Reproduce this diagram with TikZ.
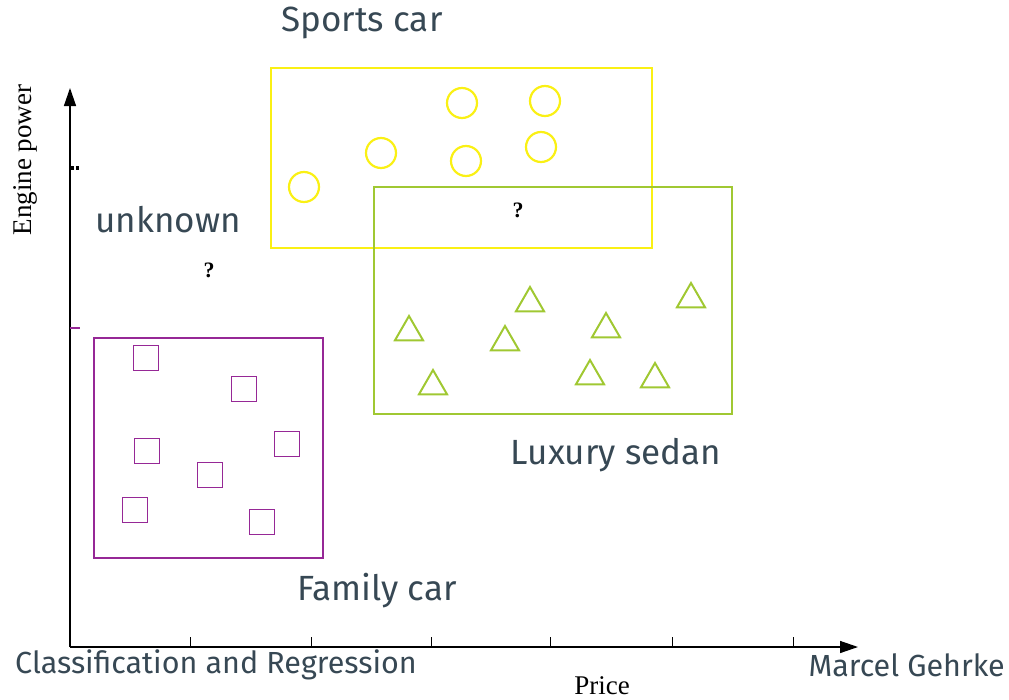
\documentclass[tikz,border=0pt]{standalone}
\usepackage{fontspec}
\setmainfont{Fira Sans}
\newfontfamily\serifx{Liberation Serif}
\usetikzlibrary{shapes.geometric,arrows.meta}
\definecolor{txt}{RGB}{55,72,84}
\definecolor{ylw}{RGB}{250,240,20}
\definecolor{grn}{RGB}{160,200,50}
\definecolor{prp}{RGB}{150,40,150}
\tikzset{
  lbl/.style={text=txt,font=\fontsize{35}{40}\selectfont,inner sep=0pt},
  foot/.style={text=txt,font=\fontsize{30.5}{36}\selectfont,inner sep=0pt},
  axlbl/.style={font=\serifx\fontsize{27}{32}\selectfont,inner sep=0pt},
  qm/.style={font=\serifx\bfseries\fontsize{22}{26}\selectfont,inner sep=0pt},
  circ/.style={draw=ylw,line width=2.2pt,circle,minimum size=30pt,inner sep=0pt},
  tri/.style={draw=grn,line width=2pt,isosceles triangle,isosceles triangle apex angle=60,shape border rotate=90,minimum width=28pt,minimum height=24pt,inner sep=0pt,anchor=apex},
  sq/.style={draw=prp,line width=1.8pt,rectangle,minimum size=25pt,inner sep=0pt},
  axis/.style={line width=1.4pt,-{Triangle[length=18pt,width=12pt]}},
  tick/.style={line width=1pt}
}
\begin{document}
\begin{tikzpicture}[x=1pt,y=-1pt]
\useasboundingbox (0,0) rectangle (1009,699);
% axes
\coordinate (O) at (70,647);
\coordinate (Y) at (70,88);
\coordinate (X) at (858,647);
\draw[axis] (O) -- (X);
\draw[axis] (O) -- (Y);
\foreach \t in {190,311,431,550,672,793}{
  \coordinate (xt\t) at (\t,647);
  \draw[tick] (xt\t) -- ++(0,-10);
}
\coordinate (yt1) at (71,168);
\coordinate (yt2) at (70,328);
\fill (yt1) ++(0,-1.8) rectangle ++(3.2,3.6);
\fill (yt1) ++(4.5,-1.8) rectangle ++(3.2,3.6);
\draw[draw=prp,line width=1.4pt] (yt2) -- ++(10,0);
\node[axlbl,rotate=90] (ylab) at (25,160) {Engine power};
\node[axlbl] (xlab) at (602,686) {Price};
% regions
\draw[ylw,line width=1.8pt] (271,68) rectangle (652,248);
\draw[grn,line width=1.8pt] (374,187) rectangle (732,414);
\draw[prp,line width=1.8pt] (94,338) rectangle (323,558);
% circles
\node[circ] (c1) at (462,103) {};
\node[circ] (c2) at (545,101) {};
\node[circ] (c3) at (381,153) {};
\node[circ] (c4) at (466,161) {};
\node[circ] (c5) at (541,147) {};
\node[circ] (c6) at (304,187) {};
% triangles (placed by apex)
\node[tri] (t1) at (409,314) {};
\node[tri] (t2) at (530,285) {};
\node[tri] (t3) at (691,281) {};
\node[tri] (t4) at (606,311) {};
\node[tri] (t5) at (505,324) {};
\node[tri] (t6) at (433,368) {};
\node[tri] (t7) at (590,358) {};
\node[tri] (t8) at (655,361) {};
% squares
\node[sq] (s1) at (146,358) {};
\node[sq] (s2) at (244,389) {};
\node[sq] (s3) at (147,451) {};
\node[sq] (s4) at (287,444) {};
\node[sq] (s5) at (210,475) {};
\node[sq] (s6) at (135,510) {};
\node[sq] (s7) at (262,522) {};
% question marks
\node[qm] (q1) at (518,210) {?};
\node[qm] (q2) at (209,270) {?};
% labels
\node[lbl] (sports) at (362,23) {Sports car};
\node[lbl] (unknown) at (168,220) {unknown};
\node[lbl] (luxury) at (616,455) {Luxury sedan};
\node[lbl] (family) at (377,591) {Family car};
\node[foot,anchor=west] (footl) at (15,665) {Classification and Regression};
\node[foot,anchor=east] (footr) at (1005,665) {Marcel Gehrke};
\end{tikzpicture}
\end{document}
